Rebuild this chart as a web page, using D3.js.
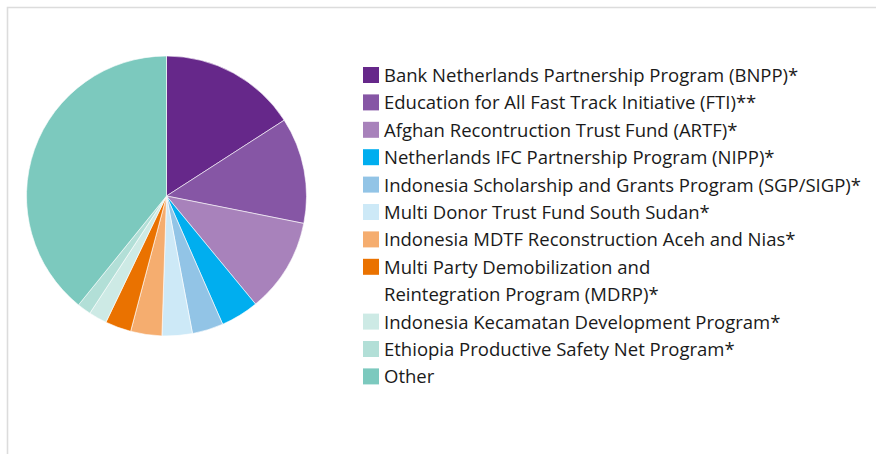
<!DOCTYPE html>
<html>
<meta charset="utf-8">
<style>
    body {
        margin: 0;
        background: #fff;
    }
    .legend text {
        font: 18.5px "Open Sans", sans-serif;
        fill: #1a1a1a;
    }
</style>
<body>
<script src="https://d3js.org/d3.v7.min.js"></script>
<script>

    // slice names (legend rows, some split in two lines) and shares in percent
    var labels = [
        ["Bank Netherlands Partnership Program (BNPP)*"],
        ["Education for All Fast Track Initiative (FTI)**"],
        ["Afghan Recontruction Trust Fund (ARTF)*"],
        ["Netherlands IFC Partnership Program (NIPP)*"],
        ["Indonesia Scholarship and Grants Program (SGP/SIGP)*"],
        ["Multi Donor Trust Fund South Sudan*"],
        ["Indonesia MDTF Reconstruction Aceh and Nias*"],
        ["Multi Party Demobilization and", "Reintegration Program (MDRP)*"],
        ["Indonesia Kecamatan Development Program*"],
        ["Ethiopia Productive Safety Net Program*"],
        ["Other"]
    ];
    var shares = [15.9, 12.25, 10.9, 4.4, 3.6, 3.5, 3.6, 3.0, 2.1, 1.6, 39.2];
    var colors = ["#66288a", "#8656a5", "#a882bb", "#00aeef", "#92c4e6",
                  "#cde9f7", "#f5ad6f", "#ea7200", "#cdeae5", "#b2dfd7", "#7cc9be"];

    var width = 876, height = 454;
    var cx = 166.5, cy = 196, radius = 140;

    var svg = d3.select("body")
        .append("svg")
        .attr("width", width)
        .attr("height", height);

    // light frame on top and left
    svg.append("path")
        .attr("d", "M7.5,454V7.5H876")
        .attr("fill", "none")
        .attr("stroke", "#dcdcdc")
        .attr("stroke-width", 1.6);

    var data = shares.map(function(v, i) {
        return {value: v, color: colors[i], label: labels[i]};
    });

    var pie = d3.pie()
        .sort(null)
        .value(function(d) { return d.value; });

    var arc = d3.arc()
        .innerRadius(0)
        .outerRadius(radius);

    svg.append("g")
        .attr("transform", "translate(" + cx + "," + cy + ")")
        .selectAll("path")
        .data(pie(data))
        .enter()
        .append("path")
        .attr("d", arc)
        .attr("fill", function(d) { return d.data.color; })
        .attr("stroke", "#fff")
        .attr("stroke-width", 0.6);

    // legend
    var rowH = 27.4;
    var legend = svg.append("g")
        .attr("class", "legend")
        .attr("transform", "translate(363,67)");

    var row = 0;
    data.forEach(function(d) {
        var g = legend.append("g")
            .attr("transform", "translate(0," + (row * rowH) + ")");
        g.append("rect")
            .attr("width", 16)
            .attr("height", 16)
            .attr("fill", d.color);
        d.label.forEach(function(line, j) {
            g.append("text")
                .attr("x", 21)
                .attr("y", 15 + j * rowH)
                .text(line);
        });
        row += d.label.length;
    });

</script>
</body>
</html>
